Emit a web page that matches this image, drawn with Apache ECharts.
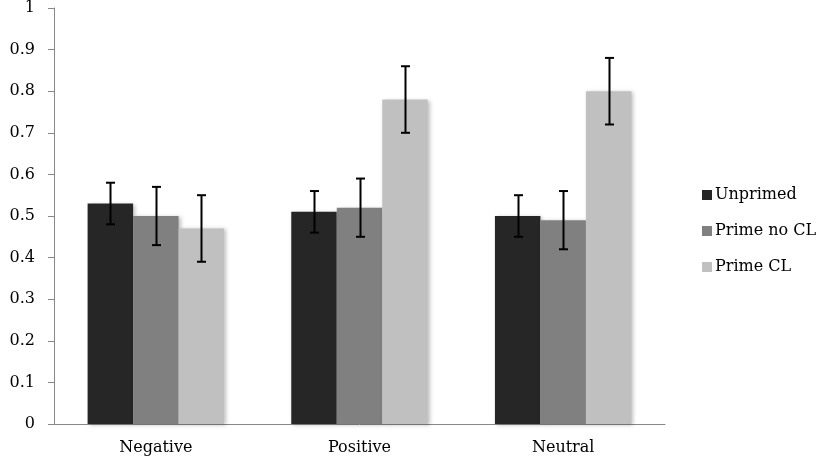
<!DOCTYPE html>
<html>
<head>
<meta charset="utf-8">
<script src="https://cdn.jsdelivr.net/npm/echarts@6/dist/echarts.min.js"></script>
<style>
  html,body{margin:0;padding:0;background:#fff;}
  #chart{width:822px;height:466px;}
</style>
</head>
<body>
<div id="chart"></div>
<script>
var categories = ['Negative', 'Positive', 'Neutral'];
var seriesNames = ['Unprimed', 'Prime no CL', 'Prime CL'];
var unprimed = [0.53, 0.51, 0.50];
var primeNoCL = [0.50, 0.52, 0.49];
var primeCL = [0.47, 0.78, 0.80];
// error bar low / high per series
var errUnprimed = [[0.48, 0.58], [0.46, 0.56], [0.45, 0.55]];
var errPrimeNoCL = [[0.43, 0.57], [0.45, 0.59], [0.42, 0.56]];
var errPrimeCL = [[0.39, 0.55], [0.70, 0.86], [0.72, 0.88]];
var yTicks = [0, 0.1, 0.2, 0.3, 0.4, 0.5, 0.6, 0.7, 0.8, 0.9, 1];

var colors = ['#262626', '#808080', '#c0c0c0'];
var gap = 0.33;
var font = 'DejaVu Serif';

function errSeries(errs, idx) {
  var data = errs.map(function (e, i) { return [i, e[0], e[1]]; });
  return {
    type: 'custom',
    name: seriesNames[idx] + ' err',
    z: 10,
    silent: true,
    renderItem: function (params, api) {
      var band = api.size([1, 0])[0];
      var bw = band * (1 - gap) / 3;
      var lo = api.coord([api.value(0), api.value(1)]);
      var hi = api.coord([api.value(0), api.value(2)]);
      var x = Math.round(lo[0] + (idx - 1) * bw) + 0.5;
      var cap = 4.5;
      var st = { stroke: '#000', lineWidth: 2 };
      return {
        type: 'group',
        children: [
          { type: 'line', shape: { x1: x, y1: lo[1], x2: x, y2: hi[1] }, style: st },
          { type: 'line', shape: { x1: x - cap, y1: lo[1], x2: x + cap, y2: lo[1] }, style: st },
          { type: 'line', shape: { x1: x - cap, y1: hi[1], x2: x + cap, y2: hi[1] }, style: st }
        ]
      };
    },
    encode: { x: 0, y: [1, 2] },
    data: data
  };
}

function barSeries(name, vals, idx) {
  return {
    type: 'bar',
    name: name,
    data: vals,
    barGap: '0%',
    barCategoryGap: (gap * 100) + '%',
    itemStyle: {
      color: colors[idx],
      shadowColor: 'rgba(0,0,0,0.25)',
      shadowBlur: 4,
      shadowOffsetX: 2,
      shadowOffsetY: 1
    }
  };
}

var chart = echarts.init(document.getElementById('chart'));
chart.setOption({
  animation: false,
  color: colors,
  grid: { left: 54, right: 157, top: 5, bottom: 42 },
  legend: {
    orient: 'vertical',
    left: 697,
    top: 182,
    itemWidth: 10,
    itemHeight: 10,
    itemGap: 20,
    icon: 'rect',
    data: seriesNames,
    textStyle: { fontFamily: font, fontSize: 16, color: '#000', padding: [0, 0, 0, -2] }
  },
  xAxis: {
    type: 'category',
    data: categories,
    axisLine: { lineStyle: { color: '#888', width: 1 } },
    axisTick: { alignWithLabel: false, length: 6, lineStyle: { color: '#888' } },
    axisLabel: { fontFamily: font, fontSize: 16, color: '#000', margin: 16 }
  },
  yAxis: {
    type: 'value',
    min: yTicks[0],
    max: yTicks[yTicks.length - 1],
    interval: 0.1,
    splitLine: { show: false },
    axisLine: { show: true, lineStyle: { color: '#888', width: 1 } },
    axisTick: { show: true, length: 6, lineStyle: { color: '#888' } },
    axisLabel: {
      fontFamily: font, fontSize: 16, color: '#000', margin: 19,
      formatter: function (v) { return String(Math.round(v * 10) / 10); }
    }
  },
  series: [
    barSeries(seriesNames[0], unprimed, 0),
    barSeries(seriesNames[1], primeNoCL, 1),
    barSeries(seriesNames[2], primeCL, 2),
    errSeries(errUnprimed, 0),
    errSeries(errPrimeNoCL, 1),
    errSeries(errPrimeCL, 2)
  ]
});
</script>
</body>
</html>
